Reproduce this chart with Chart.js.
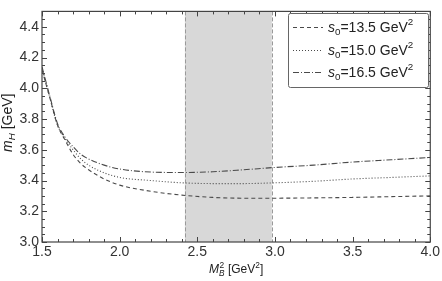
<!DOCTYPE html>
<html>
<head>
<meta charset="utf-8">
<script src="https://cdn.jsdelivr.net/npm/chart.js@4"></script>
<style>
  body { margin: 0; background: #fff; }
  #wrap { width: 442px; height: 281px; }
</style>
</head>
<body>
<div id="wrap"><canvas id="massChart" width="442" height="281"></canvas></div>
<script>
// values
const borelMass = [1.50, 1.55, 1.60, 1.65, 1.70, 1.75, 1.80, 1.90, 2.00, 2.20, 2.40, 2.60, 2.80, 3.00, 3.25, 3.50, 3.75, 4.00];
const mass135 = [4.12, 3.94, 3.76, 3.66, 3.57, 3.51, 3.47, 3.41, 3.37, 3.33, 3.305, 3.29, 3.285, 3.285, 3.287, 3.29, 3.295, 3.30];
const mass150 = [4.13, 3.94, 3.76, 3.67, 3.60, 3.54, 3.50, 3.45, 3.42, 3.40, 3.385, 3.38, 3.38, 3.385, 3.395, 3.41, 3.42, 3.43];
const mass165 = [4.14, 3.95, 3.77, 3.68, 3.62, 3.57, 3.54, 3.50, 3.475, 3.455, 3.452, 3.457, 3.47, 3.485, 3.50, 3.52, 3.535, 3.55];
const thresholds = ["13.5", "15.0", "16.5"];
const workingWindow = [2.42, 2.98];
const xTicks = [1.5, 2.0, 2.5, 3.0, 3.5, 4.0];
const yTicks = [3.0, 3.2, 3.4, 3.6, 3.8, 4.0, 4.2, 4.4];

const FONT = "Liberation Sans, Arial, sans-serif";
const LINE = "#4a4a4a";
const dashes = [[4, 3], [1, 2], [6, 2, 1, 2]];

function makeDataset(values, i) {
    return {
        label: thresholds[i],
        data: borelMass.map((x, k) => ({ x: x, y: values[k] })),
        borderColor: LINE,
        borderWidth: 1.1,
        borderDash: dashes[i],
        pointRadius: 0,
        cubicInterpolationMode: 'monotone',
        fill: false
    };
}

// draws text pieces: [text, italic, shift] where shift -1 = sub, 1 = sup
function drawRich(ctx, parts, x, y, size) {
    let cx = x;
    parts.forEach(p => {
        let s = p[2] ? size * 0.7 : size;
        ctx.font = (p[1] ? 'italic ' : '') + s + 'px ' + FONT;
        let dy = p[2] === -1 ? size * 0.3 : (p[2] === 1 ? -size * 0.4 : 0);
        ctx.fillText(p[0], cx, y + dy);
        cx += ctx.measureText(p[0]).width;
    });
    return cx - x;
}

function richWidth(ctx, parts, size) {
    let w = 0;
    parts.forEach(p => {
        let s = p[2] ? size * 0.7 : size;
        ctx.font = (p[1] ? 'italic ' : '') + s + 'px ' + FONT;
        w += ctx.measureText(p[0]).width;
    });
    return w;
}

const bandPlugin = {
    id: 'band',
    beforeDatasetsDraw(chart) {
        const ctx = chart.ctx, a = chart.chartArea, xs = chart.scales.x;
        const x0 = xs.getPixelForValue(workingWindow[0]);
        const x1 = xs.getPixelForValue(workingWindow[1]);
        ctx.save();
        ctx.fillStyle = '#d8d8d8';
        ctx.fillRect(x0, a.top, x1 - x0, a.bottom - a.top);
        ctx.strokeStyle = '#9a9a9a';
        ctx.lineWidth = 1;
        ctx.setLineDash([4, 2]);
        [x0, x1].forEach(px => {
            ctx.beginPath();
            ctx.moveTo(Math.round(px) + 0.5, a.top);
            ctx.lineTo(Math.round(px) + 0.5, a.bottom);
            ctx.stroke();
        });
        ctx.restore();
    }
};

const framePlugin = {
    id: 'frame',
    afterDatasetsDraw(chart) {
        const ctx = chart.ctx, a = chart.chartArea;
        const xs = chart.scales.x, ys = chart.scales.y;
        ctx.save();
        ctx.strokeStyle = '#444';
        ctx.lineWidth = 1;
        // ticks inside on all four sides
        ctx.beginPath();
        for (let k = 0; k <= 25; k++) {
            let v = 1.5 + k * 0.1;
            let px = Math.round(xs.getPixelForValue(v)) + 0.5;
            let len = (k % 5 === 0) ? 5 : 3;
            ctx.moveTo(px, a.bottom); ctx.lineTo(px, a.bottom - len);
            ctx.moveTo(px, a.top); ctx.lineTo(px, a.top + len);
        }
        for (let k = 0; k <= 30; k++) {
            let v = 3.0 + k * 0.05;
            let py = Math.round(ys.getPixelForValue(v)) + 0.5;
            let len = (k % 4 === 0) ? 5 : 3;
            ctx.moveTo(a.left, py); ctx.lineTo(a.left + len, py);
            ctx.moveTo(a.right, py); ctx.lineTo(a.right - len, py);
        }
        ctx.stroke();
        ctx.lineWidth = 1.2;
        ctx.strokeRect(a.left, a.top, a.right - a.left, a.bottom - a.top);

        // legend
        ctx.lineWidth = 1;
        ctx.strokeStyle = '#666';
        ctx.fillStyle = '#fff';
        ctx.beginPath();
        ctx.roundRect(288.5, 13.5, 140, 74, 2);
        ctx.fill();
        ctx.stroke();
        const rows = [27, 50, 72];
        ctx.textBaseline = 'middle';
        ctx.fillStyle = '#222';
        chart.data.datasets.forEach((ds, i) => {
            ctx.strokeStyle = LINE;
            ctx.lineWidth = 1.1;
            ctx.setLineDash(ds.borderDash);
            ctx.beginPath();
            ctx.moveTo(293, rows[i] + 0.5);
            ctx.lineTo(323, rows[i] + 0.5);
            ctx.stroke();
            ctx.setLineDash([]);
            drawRich(ctx, [['s', true, 0], ['0', false, -1], ['=' + ds.label + ' GeV', false, 0], ['2', false, 1]], 328, rows[i] + 1, 14);
        });

        // axis titles
        const yTitle = [['m', true, 0], ['H', true, -1], [' [GeV]', false, 0]];
        ctx.save();
        ctx.translate(8, (a.top + a.bottom) / 2 - 4);
        ctx.rotate(-Math.PI / 2);
        let w = richWidth(ctx, yTitle, 14);
        drawRich(ctx, yTitle, -w / 2, 0, 14);
        ctx.restore();

        const xTitle = [['M', true, 0], ['B', true, -1], [' [GeV', false, 0], ['2', false, 1], [']', false, 0]];
        let w2 = richWidth(ctx, xTitle, 12);
        // superscript over the subscript on M
        ctx.font = 'italic 12px ' + FONT;
        let mW = ctx.measureText('M').width;
        let cx = (a.left + a.right) / 2 - w2 / 2;
        drawRich(ctx, [['M', true, 0]], cx, 270, 12);
        drawRich(ctx, [['2', false, 1]], cx + mW + 0.5, 270, 12);
        drawRich(ctx, [['B', true, -1], [' [GeV', false, 0], ['2', false, 1], [']', false, 0]], cx + mW, 270, 12);
        ctx.restore();
    }
};

const ctx = document.getElementById('massChart').getContext('2d');

new Chart(ctx, {
    type: 'line',
    data: {
        datasets: [makeDataset(mass135, 0), makeDataset(mass150, 1), makeDataset(mass165, 2)]
    },
    options: {
        responsive: false,
        animation: false,
        layout: { padding: { top: 1, right: 10, left: 0, bottom: 0 } },
        plugins: {
            legend: { display: false },
            tooltip: { enabled: false }
        },
        scales: {
            x: {
                type: 'linear',
                min: 1.5,
                max: 4.0,
                afterBuildTicks: s => { s.ticks = xTicks.map(v => ({ value: v })); },
                afterFit: s => { s.height = 39; },
                grid: { display: false, drawTicks: false },
                border: { display: false },
                ticks: {
                    padding: 2,
                    color: '#333',
                    font: { family: FONT, size: 14 },
                    maxRotation: 0,
                    callback: v => v.toFixed(1)
                }
            },
            y: {
                min: 3.0,
                max: 4.5,
                afterBuildTicks: s => { s.ticks = yTicks.map(v => ({ value: v })); },
                afterFit: s => { s.width = 42; },
                grid: { display: false, drawTicks: false },
                border: { display: false },
                ticks: {
                    padding: 3,
                    color: '#333',
                    font: { family: FONT, size: 14 },
                    callback: v => v.toFixed(1)
                }
            }
        }
    },
    plugins: [bandPlugin, framePlugin]
});
</script>
</body>
</html>
